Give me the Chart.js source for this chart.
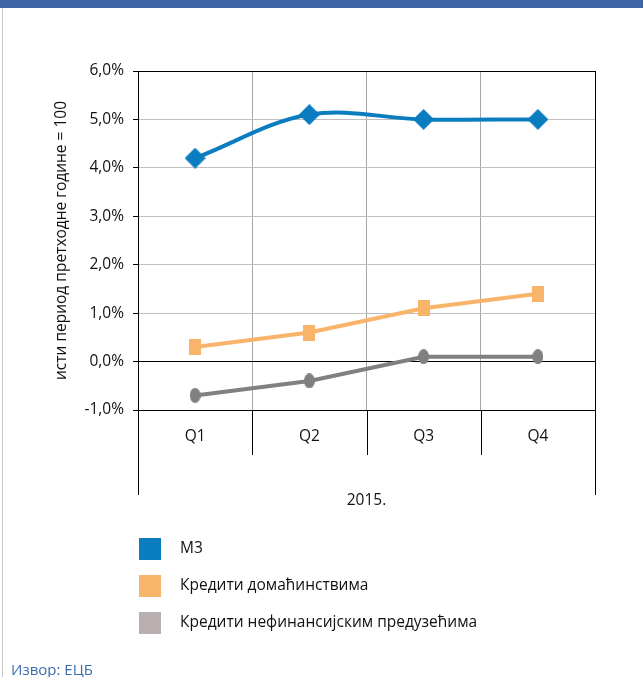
<!DOCTYPE html>
<html>
<head>
<meta charset="utf-8">
<script src="https://cdn.jsdelivr.net/npm/chart.js@4.4.1/dist/chart.umd.min.js"></script>
<style>
  html, body { margin: 0; padding: 0; background: #fff; }
  #wrap { position: relative; width: 643px; height: 677px; overflow: hidden; }
  #topbar { position: absolute; left: 0; top: 0; width: 643px; height: 8px; background: #3D65A5; }
  #leftline { position: absolute; left: 2px; top: 8px; width: 1px; height: 669px; background: #C8C8C8; }
  #source { position: absolute; left: 11px; top: 659px; font: 15px "Open Sans", sans-serif; color: #3D6CB0; }
  canvas { position: absolute; left: 0; top: 0; }
</style>
</head>
<body>
<div id="wrap">
  <div id="topbar"></div>
  <div id="leftline"></div>
  <canvas id="chart" width="643" height="677"></canvas>
  <div id="source">Извор: ЕЦБ</div>
</div>
<script>
// categories and values
let quarters = ['Q1', 'Q2', 'Q3', 'Q4'];
let yearLabel = '2015.';
let m3 = [4.2, 5.1, 5.0, 5.0];
let householdLoans = [0.3, 0.6, 1.1, 1.4];
let corporateLoans = [-0.7, -0.4, 0.1, 0.1];
let seriesNames = ['М3', 'Кредити домаћинствима', 'Кредити нефинансијским предузећима'];
let yTitle = 'исти период претходне године = 100';

let FONT = '"Open Sans", sans-serif';
let FSIZE = 15.5;

// little canvases used as point markers (the markers in the picture are a bit taller than wide)
let makeMarker = (w, h, color, shape) => {
  let c = document.createElement('canvas');
  c.width = w; c.height = h;
  let g = c.getContext('2d');
  g.fillStyle = color;
  g.beginPath();
  if (shape === 'diamond') {
    g.moveTo(w / 2, 0); g.lineTo(w, h / 2); g.lineTo(w / 2, h); g.lineTo(0, h / 2);
  } else if (shape === 'ellipse') {
    g.ellipse(w / 2, h / 2, w / 2, h / 2, 0, 0, Math.PI * 2);
  } else {
    g.rect(0, 0, w, h);
  }
  g.closePath();
  g.fill();
  return c;
};

let blue = '#0A7DC0';
let orange = '#F9B46B';
let grey = '#808080';
let legendColors = [blue, orange, '#B9AFB1'];

// draws the category frame, year label, y title and legend
let extras = {
  id: 'extras',
  afterDraw(chart) {
    let ctx = chart.ctx;
    let area = chart.chartArea;
    ctx.save();
    ctx.strokeStyle = '#000';
    ctx.lineWidth = 1;
    // right edge of plot
    ctx.beginPath();
    ctx.moveTo(Math.round(area.right) + 0.5, area.top);
    ctx.lineTo(Math.round(area.right) + 0.5, area.bottom + 85);
    ctx.stroke();
    // category dividers
    let step = (area.right - area.left) / quarters.length;
    for (let i = 0; i <= quarters.length; i++) {
      let px = Math.round(area.left + step * i) + 0.5;
      let len = (i === 0 || i === quarters.length) ? 85 : 45;
      ctx.beginPath();
      ctx.moveTo(px, area.bottom);
      ctx.lineTo(px, area.bottom + len);
      ctx.stroke();
    }
    ctx.fillStyle = '#111';
    ctx.font = FSIZE + 'px ' + FONT;
    ctx.textAlign = 'center';
    ctx.textBaseline = 'middle';
    ctx.fillText(yearLabel, (area.left + area.right) / 2, area.bottom + 91);

    // y axis title
    ctx.save();
    ctx.translate(62, (area.top + area.bottom) / 2);
    ctx.rotate(-Math.PI / 2);
    ctx.fillText(yTitle, 0, 0);
    ctx.restore();

    // legend
    ctx.textAlign = 'left';
    seriesNames.forEach((name, i) => {
      let top = 538 + i * 37;
      ctx.fillStyle = legendColors[i];
      ctx.fillRect(139, top, 22, 22);
      ctx.fillStyle = '#111';
      ctx.fillText(name, 180, top + 11);
    });
    ctx.restore();
  }
};

let gridColor = (c) => {
  let v = c.tick ? c.tick.value : null;
  if (v === 0 || v === 6 || v === -1) return '#000';
  return '#BFBFBF';
};

new Chart(document.getElementById('chart'), {
  type: 'line',
  data: {
    labels: quarters,
    datasets: [
      {
        label: seriesNames[0],
        data: m3,
        borderColor: blue,
        backgroundColor: blue,
        borderWidth: 4,
        tension: 0.35,
        pointStyle: makeMarker(21, 21, blue, 'diamond'),
        pointRadius: 10
      },
      {
        label: seriesNames[1],
        data: householdLoans,
        borderColor: orange,
        backgroundColor: orange,
        borderWidth: 4,
        tension: 0,
        pointStyle: makeMarker(12, 16, orange, 'rect'),
        pointRadius: 8
      },
      {
        label: seriesNames[2],
        data: corporateLoans,
        borderColor: grey,
        backgroundColor: grey,
        borderWidth: 4,
        tension: 0,
        pointStyle: makeMarker(11, 15, grey, 'ellipse'),
        pointRadius: 8
      }
    ]
  },
  options: {
    responsive: false,
    animation: false,
    events: [],
    layout: { padding: { left: 0, top: 71, right: 48, bottom: 0 } },
    plugins: {
      legend: { display: false },
      tooltip: { enabled: false }
    },
    scales: {
      x: {
        offset: true,
        afterFit: (s) => { s.height = 267; },
        grid: { offset: true, color: '#A6A6A6', drawTicks: false },
        border: { color: '#000' },
        ticks: { padding: 17, color: '#111', font: { family: FONT, size: FSIZE } }
      },
      y: {
        min: -1,
        max: 6,
        afterFit: (s) => { s.width = 138; },
        ticks: {
          stepSize: 1,
          padding: 9,
          color: '#111',
          font: { family: FONT, size: FSIZE },
          callback: (v) => v.toFixed(1).replace('.', ',') + '%'
        },
        grid: { color: gridColor, tickColor: '#000', tickLength: 5 },
        border: { color: '#000' }
      }
    }
  },
  plugins: [extras]
});
</script>
</body>
</html>
